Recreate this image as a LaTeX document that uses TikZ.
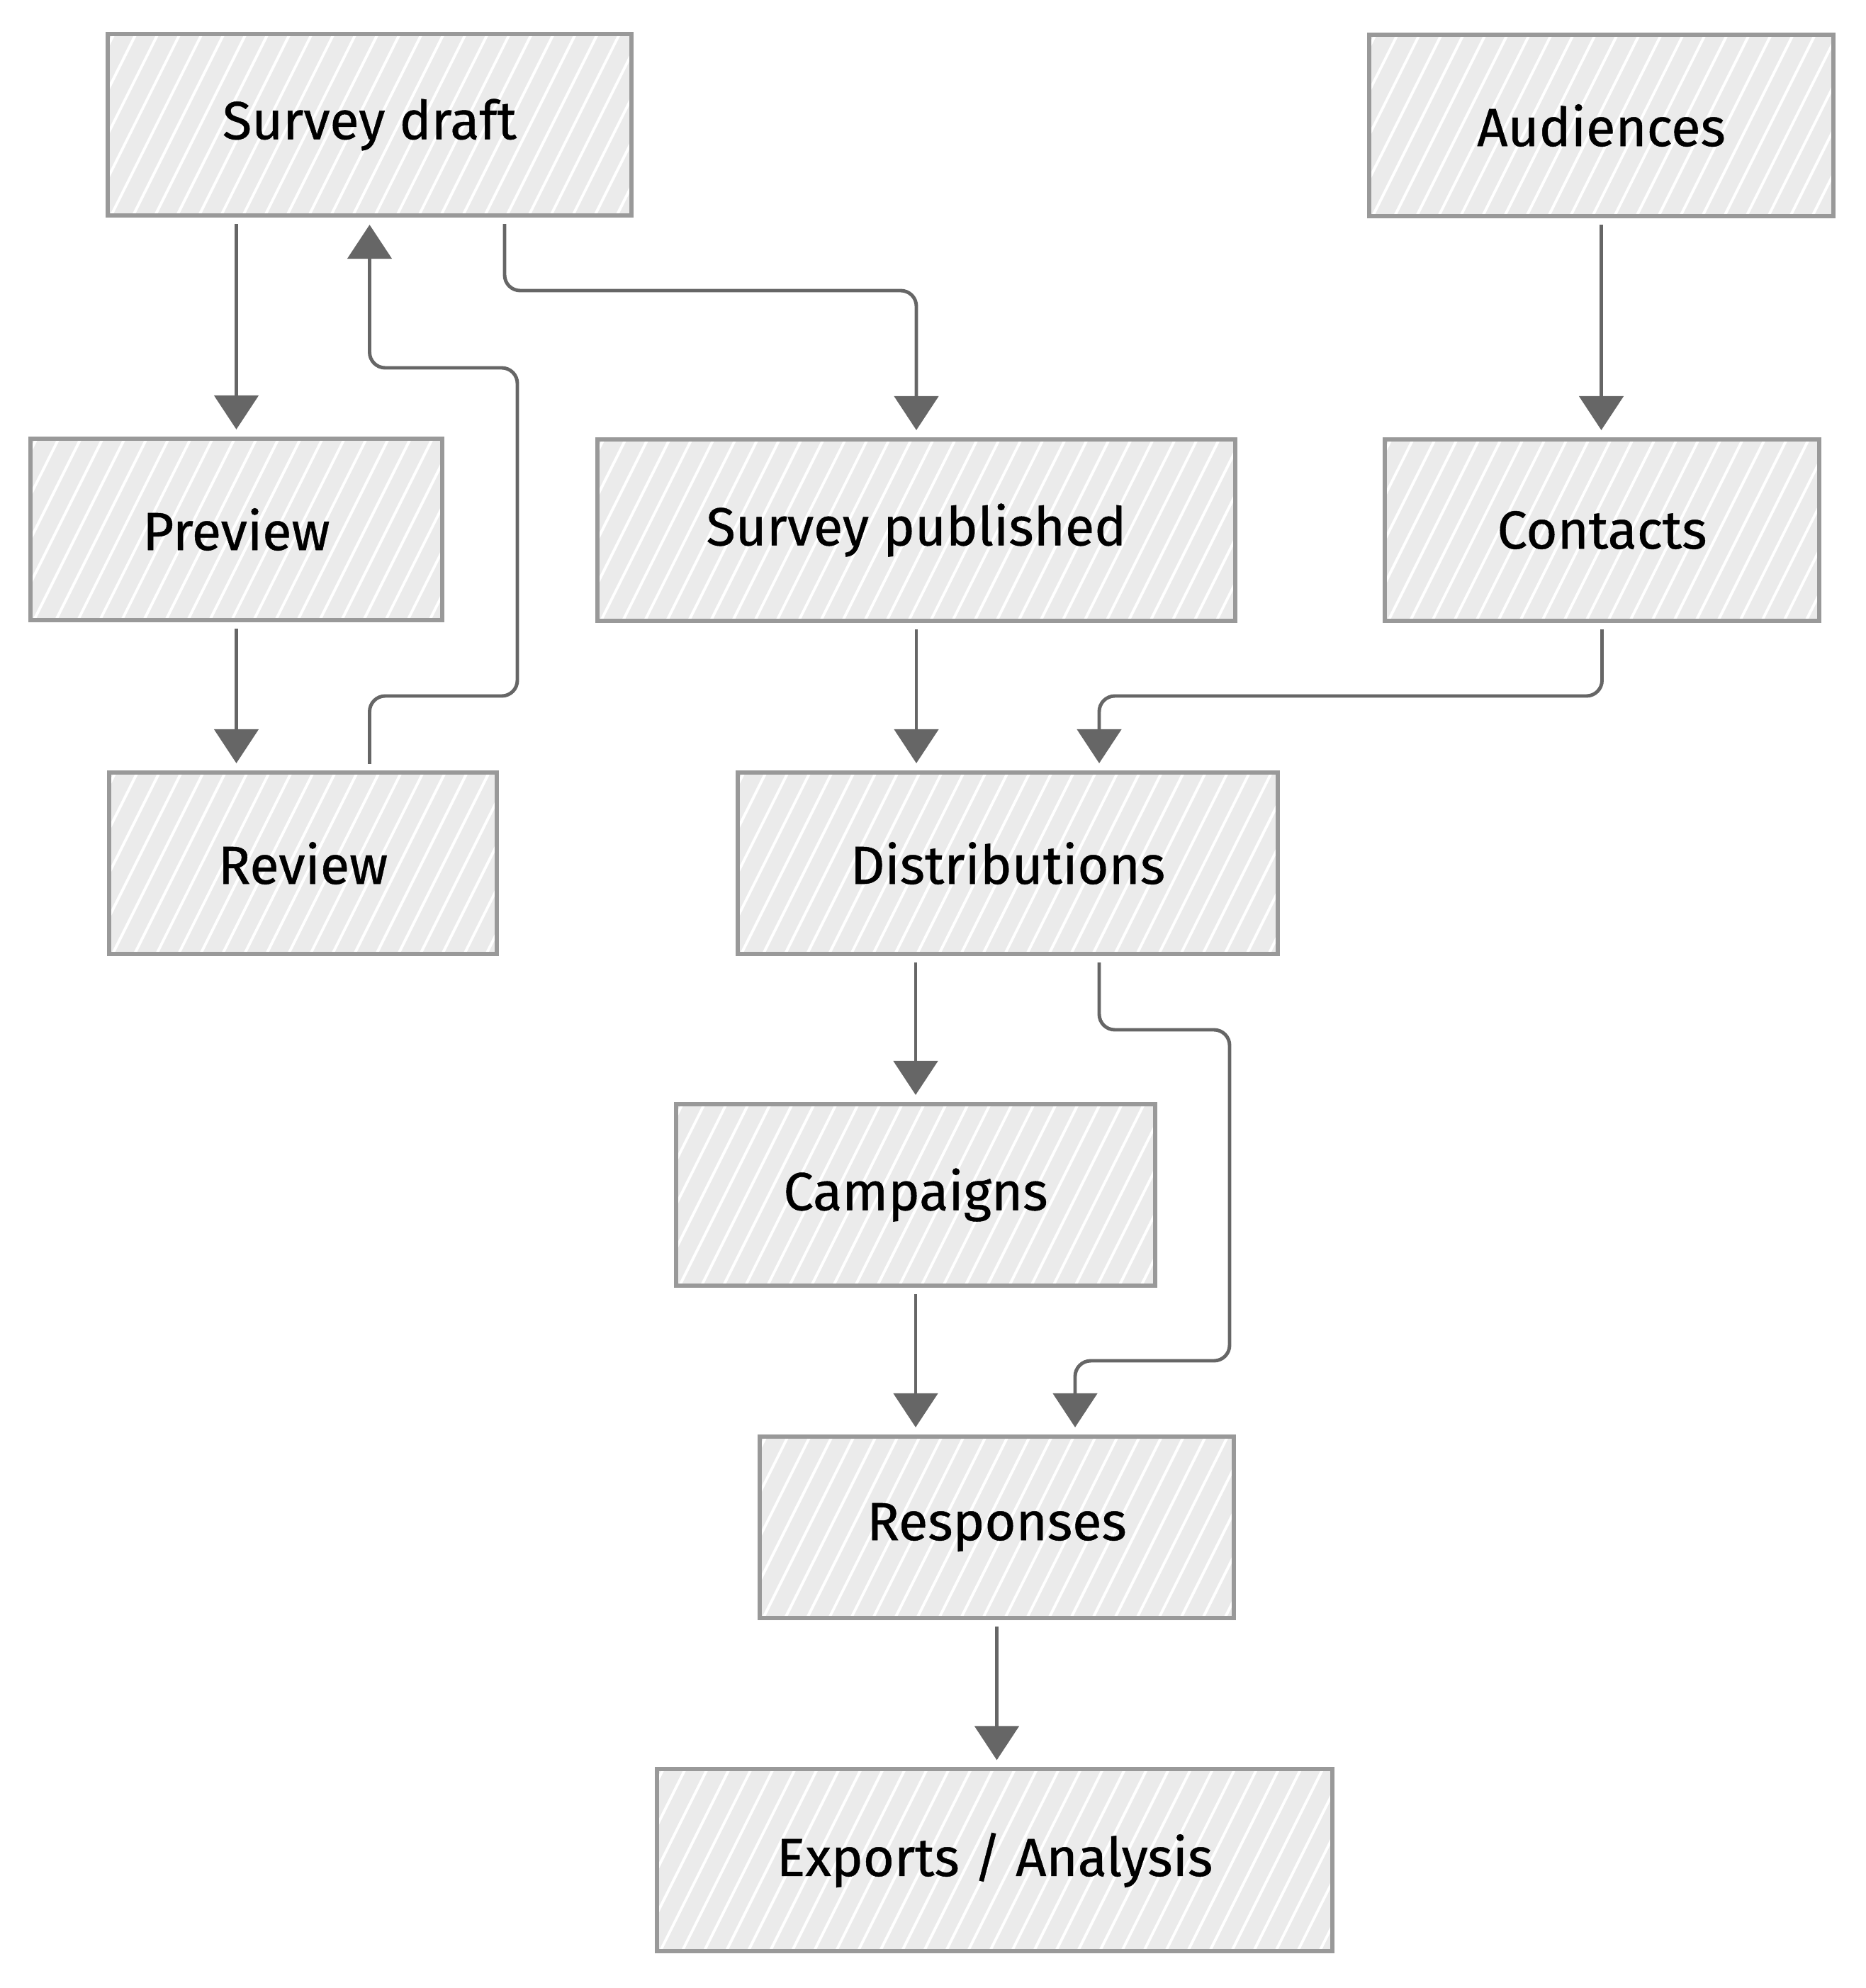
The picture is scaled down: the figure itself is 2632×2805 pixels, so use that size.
\documentclass[tikz,border=0pt]{standalone}
\usepackage{fontspec}
\setmainfont{Fira Sans}
\newfontfamily\boxfont{Fira Sans}[FakeBold=0.6]
\usepackage{xcolor}
\usepackage{tikz}
\usetikzlibrary{positioning, calc, arrows.meta}

\definecolor{boxfill}{HTML}{EBEBEB}
\definecolor{boxline}{HTML}{999999}
\definecolor{connline}{HTML}{666666}

\tikzset{
  sbox/.style={draw=boxline, fill=boxfill, line width=1.7pt, minimum height=2.56cm,
    inner sep=0pt, font=\boxfont\fontsize{21.5}{26}\selectfont,
    path picture={
      \foreach \k in {0,0.31,...,11}{
        \draw[white, line width=1.1pt]
          ([xshift={(\k-1.5)*1cm}]path picture bounding box.south west) -- ++(1.5cm,3cm);
      }}},
  conn/.style={draw=connline, line width=1.4pt, rounded corners=0.22cm,
    -{Triangle[length=0.48cm, width=0.62cm]}, shorten <=0.09cm, shorten >=0.1cm}
}

\begin{document}
\begin{tikzpicture}[x=0.01cm, y=-0.01cm]
      \useasboundingbox (0,0) rectangle (2632,2805);
      % boxes
      \node[sbox, minimum width=7.39cm] (draft) at (521.5,176) {Survey draft};
      \node[sbox, minimum width=6.55cm] (aud) at (2259.5,177) {Audiences};
      \node[sbox, minimum width=5.81cm] (prev) at (333.5,747) {Preview};
      \node[sbox, minimum width=9.00cm] (pub) at (1293,748) {Survey published};
      \node[sbox, minimum width=6.13cm] (cont) at (2260.5,748) {Contacts};
      \node[sbox, minimum width=5.47cm] (review) at (427.5,1218) {Review};
      \node[sbox, minimum width=7.62cm] (distr) at (1422,1218) {Distributions};
      \node[sbox, minimum width=6.76cm] (camp) at (1292,1686) {Campaigns};
      \node[sbox, minimum width=6.69cm] (resp) at (1406.5,2155) {Responses};
      \node[sbox, minimum width=9.53cm] (exp) at (1403.5,2624.5) {Exports / Analysis};
      % bend points
      \coordinate (k1) at (712,410);
      \coordinate (k2) at (1551,982);
      \coordinate (k3) at (1735,1453);
      \coordinate (k4) at (1517,1920);
      \coordinate (k5) at (730,982);
      \coordinate (k6) at (730,519);
      % connectors
      \draw[conn] (prev.north |- draft.south) -- (prev.north);
      \draw[conn] (prev.south) -- (prev.south |- review.north);
      \draw[conn] (review.north -| draft.south) |- (k5) -- (k6) -| (draft.south);
      \draw[conn] (draft.south -| k1) -- (k1) -| (pub.north);
      \draw[conn] (aud.south) -- (aud.south |- cont.north);
      \draw[conn] (pub.south) -- (pub.south |- distr.north);
      \draw[conn] (cont.south) |- (k2) -- (k2 |- distr.north);
      \draw[conn] (camp.north |- distr.south) -- (camp.north);
      \draw[conn] (k2 |- distr.south) |- (k3) |- (k4) -- (k4 |- resp.north);
      \draw[conn] (camp.south) -- (camp.south |- resp.north);
      \draw[conn] (resp.south) -- (resp.south |- exp.north);
    \end{tikzpicture}
\end{document}
